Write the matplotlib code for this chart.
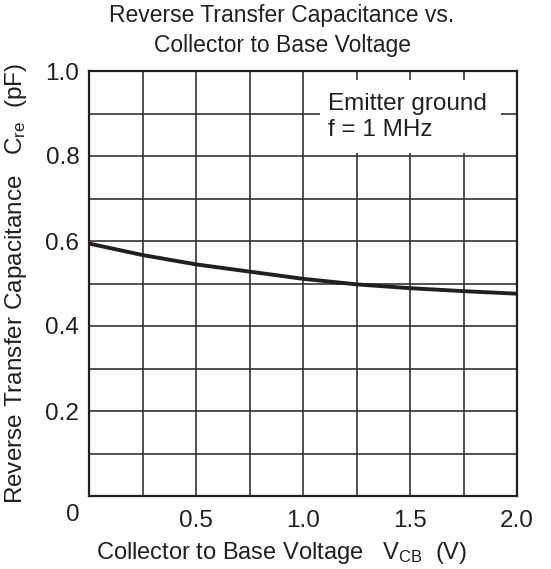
import matplotlib
import matplotlib.pyplot as plt
from matplotlib.patches import Rectangle
import numpy as np

matplotlib.use("Agg")

plt.rcParams["font.family"] = ["Liberation Sans", "DejaVu Sans"]
plt.rcParams["mathtext.fontset"] = "custom"
plt.rcParams["mathtext.rm"] = "Liberation Sans"
plt.rcParams["mathtext.it"] = "Liberation Sans"
plt.rcParams["font.size"] = 17.5

# values
vcb = [0.0, 0.25, 0.5, 0.75, 1.0, 1.25, 1.5, 1.75, 2.0]
cre = [0.594, 0.567, 0.545, 0.528, 0.511, 0.498, 0.489, 0.482, 0.476]

x_ticks = [0.5, 1.0, 1.5, 2.0]
x_labels = ["0.5", "1.0", "1.5", "2.0"]
y_ticks = [0.2, 0.4, 0.6, 0.8, 1.0]
y_labels = ["0.2", "0.4", "0.6", "0.8", "1.0"]

ink = "#231f20"

fig = plt.figure(figsize=(5.51, 5.69), dpi=100)
ax = fig.add_axes([89 / 551, 73 / 569, 428 / 551, 425 / 569])

ax.plot(vcb, cre, color=ink, linewidth=2.8, solid_capstyle="butt", zorder=4)

ax.set_xlim(0, 2.0)
ax.set_ylim(0, 1.0)
ax.set_xticks(x_ticks, x_labels)
ax.set_yticks(y_ticks, y_labels)
ax.set_xticks(np.arange(0, 2.01, 0.25), minor=True)
ax.set_yticks(np.arange(0, 1.01, 0.1), minor=True)
ax.tick_params(which="both", length=0, colors=ink)
ax.tick_params(axis="y", pad=7)
ax.tick_params(axis="x", pad=10)
ax.grid(which="both", color="#333333", linewidth=1.2)
ax.set_axisbelow(True)
for spine in ax.spines.values():
    spine.set_linewidth(1.6)
    spine.set_color(ink)

# white box behind the conditions note
ax.add_patch(Rectangle((1.08, 0.807), 0.845, 0.172, facecolor="white",
                       edgecolor="none", zorder=2))
ax.text(1.117, 0.892, "Emitter ground\nf = 1 MHz", ha="left", va="center",
        color=ink, linespacing=1.2, zorder=3)

ax.text(-0.038, -0.044, "0", transform=ax.transAxes, ha="center", va="center",
        color=ink)

ax.set_ylabel(r"Reverse Transfer Capacitance   C$_{\mathrm{re}}$  (pF)", color=ink)
ax.yaxis.set_label_coords(-0.14, 0.5)
ax.set_xlabel(r"Collector to Base Voltage   V$_{\mathrm{CB}}$  (V)", color=ink,
              fontsize=17)
ax.xaxis.set_label_coords(0.449, -0.104)

fig.text(282 / 551, 1 - 4 / 569,
         "Reverse Transfer Capacitance vs.\nCollector to Base Voltage",
         ha="center", va="top", color=ink, linespacing=1.4, fontsize=16.5)

fig.savefig("out.png", dpi=100)
